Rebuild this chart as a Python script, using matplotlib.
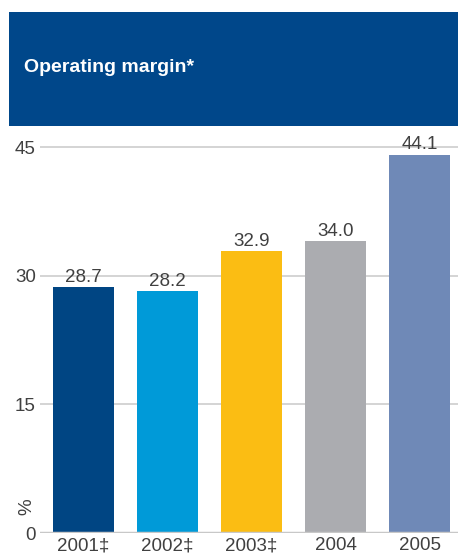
import matplotlib
matplotlib.use("Agg")
import matplotlib.pyplot as plt
from matplotlib.patches import Rectangle

# Operating margin by year (%)
years = ["2001‡", "2002‡", "2003‡", "2004", "2005"]
margins = [28.7, 28.2, 32.9, 34.0, 44.1]
bar_colors = ["#004583", "#009ad8", "#fbbd13", "#abacb0", "#6f89b7"]
y_ticks = [0, 15, 30, 45]
title = "Operating margin*"
unit = "%"

W, H = 458, 555
fig = plt.figure(figsize=(W / 100, H / 100), dpi=100)
plt.rcParams["font.family"] = ["Liberation Sans", "DejaVu Sans"]
txt_color = "#404040"
num_size = 13.5

# Header band
fig.patches.append(Rectangle((9 / W, 1 - 126 / H), 449 / W, 114 / H,
                             transform=fig.transFigure, facecolor="#00478a",
                             edgecolor="none", zorder=0))
fig.text(24 / W, 1 - 68 / H, title, color="white", fontsize=14,
         fontweight="bold", va="center", ha="left")

# Plot area
ax_left, ax_right = 40, 458
ax_top, ax_bottom = 126, 533
ax = fig.add_axes([ax_left / W, 1 - ax_bottom / H,
                   (ax_right - ax_left) / W, (ax_bottom - ax_top) / H])

px_per_unit = (533 - 147) / 45.0
ax.set_ylim(0, (ax_bottom - ax_top) / px_per_unit)
ax.set_xlim(-0.518, 4.458)

x = list(range(len(years)))
ax.bar(x, margins, width=0.726, color=bar_colors, zorder=2)

for xi, v in zip(x, margins):
    ax.text(xi, v + 0.15, f"{v:.1f}", ha="center", va="bottom",
            fontsize=num_size, color=txt_color, zorder=3)

for t in y_ticks[1:]:
    ax.axhline(t, color="#d4d4d4", linewidth=1.4, zorder=1)
ax.axhline(0, color="#c8c8c8", linewidth=2.5, zorder=3)

ax.set_yticks(y_ticks)
ax.set_yticklabels([str(t) for t in y_ticks], fontsize=num_size, color=txt_color)
ax.set_xticks(x)
ax.set_xticklabels(years, fontsize=num_size, color=txt_color)
ax.tick_params(axis="both", length=0)
ax.tick_params(axis="y", pad=3)
ax.tick_params(axis="x", pad=3)
for s in ax.spines.values():
    s.set_visible(False)

ax.text(27 / W, 1 - 507 / H, unit, transform=fig.transFigure, rotation=90,
        ha="center", va="center", fontsize=num_size, color=txt_color)

fig.savefig("out.png", dpi=100)
